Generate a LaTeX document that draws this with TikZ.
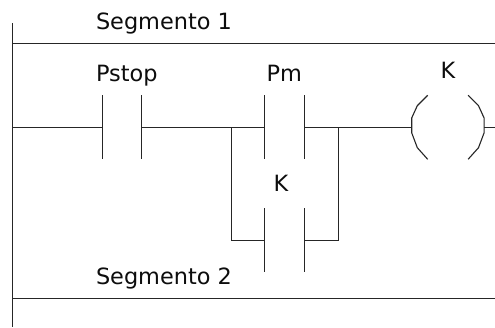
\documentclass[tikz,border=0pt]{standalone}
\usepackage{fontspec}
\setmainfont{DejaVu Sans}
\tikzset{
  wire/.style={draw=black!85,line width=1.1pt,line cap=butt},
  lbl/.style={anchor=base west,inner sep=0pt,outer sep=0pt,font=\fontsize{22.4pt}{26pt}\selectfont,text=black!95},
  contact/.style={rectangle,minimum width=39.5pt,minimum height=64pt,inner sep=0pt,outer sep=0pt,
    append after command={
      (\tikzlastnode.north west) edge[wire] (\tikzlastnode.south west)
      (\tikzlastnode.north east) edge[wire] (\tikzlastnode.south east)}},
  coil/.style={rectangle,minimum width=72.4pt,minimum height=64pt,inner sep=0pt,outer sep=0pt},
}
\begin{document}
\begin{tikzpicture}[x=1pt,y=-1pt]
\useasboundingbox[fill=white] (0,0) rectangle (495,327);
% rails
\coordinate (railtop) at (12.3,23);
\coordinate (railbot) at (12.3,327);
\coordinate (seg1l) at (12.3,43.3);
\coordinate (seg1r) at (495,43.3);
\coordinate (seg2l) at (12.3,298.5);
\coordinate (seg2r) at (495,298.5);
\coordinate (rungl) at (12.3,127.3);
\coordinate (rungr) at (495,127.3);
\coordinate (jl) at (231.7,127.3);
\coordinate (jr) at (338.5,127.3);
\coordinate (jlb) at (231.7,240.3);
\coordinate (jrb) at (338.5,240.3);
\draw[wire] (railtop) -- (railbot);
\draw[wire] (seg1l) -- (seg1r);
\draw[wire] (seg2l) -- (seg2r);
% elements
\node[contact] (pstop) at (121.8,127.3) {};
\node[contact] (pm) at (284.3,127.3) {};
\node[contact] (k2) at (284.3,240.3) {};
\node[coil] (coil) at (447.9,127.3) {};
\draw[wire] (coil.north west)++(16,0) -- ++(-10.4,10.4) -- ++(-5.6,12.3) -- ++(0,14.8) -- ++(5.6,14.9) -- ++(10.4,11.6);
\draw[wire] (coil.north east)++(-16,0) -- ++(10.4,10.4) -- ++(5.6,12.3) -- ++(0,14.8) -- ++(-5.6,14.9) -- ++(-10.4,11.6);
% connectors
\draw[wire] (rungl) -- (pstop.west);
\draw[wire] (pstop.east) -- (jl) -- (pm.west);
\draw[wire] (pm.east) -- (jr) -- (coil.west);
\draw[wire] (coil.east) -- (rungr);
\draw[wire] (jl) -- (jlb) -- (k2.west);
\draw[wire] (k2.east) -- (jrb) -- (jr);
% labels
\node[lbl] (t1) at (96,29) {Segmento 1};
\node[lbl] (t2) at (96,284.3) {Segmento 2};
\node[lbl] (t3) at (96,81) {Pstop};
\node[lbl] (t4) at (266.5,81.5) {Pm};
\node[lbl] (t5) at (440.5,78.7) {K};
\node[lbl] (t6) at (273.5,191.7) {K};
\end{tikzpicture}
\end{document}
